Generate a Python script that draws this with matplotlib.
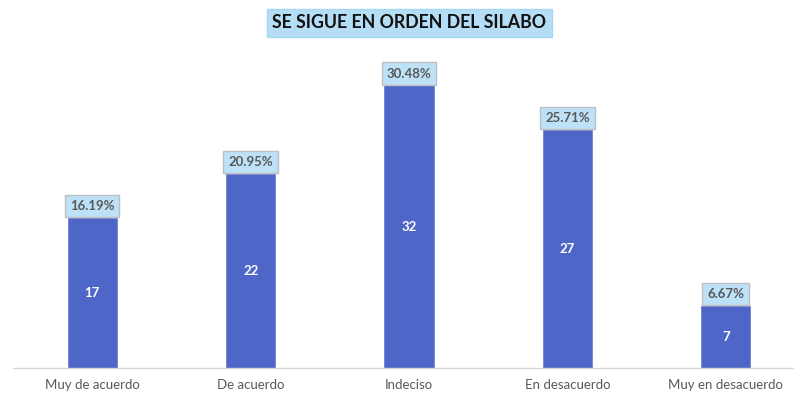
import matplotlib
matplotlib.use("Agg")
import matplotlib.pyplot as plt

categories = ["Muy de acuerdo", "De acuerdo", "Indeciso", "En desacuerdo", "Muy en desacuerdo"]
counts = [17, 22, 32, 27, 7]
percents = ["16.19%", "20.95%", "30.48%", "25.71%", "6.67%"]
title = "SE SIGUE EN ORDEN DEL SILABO"

plt.rcParams["font.family"] = ["Lato", "DejaVu Sans"]

fig = plt.figure(figsize=(7.94, 3.95), dpi=100)
ax = fig.add_axes([13 / 794, 27 / 395, 781 / 794, 318 / 395])

x = list(range(len(categories)))
bars = ax.bar(x, counts, width=0.31, color="#4F66C9", edgecolor="#6E82D6", linewidth=0.6, zorder=2)

ax.set_xlim(-0.5, 4.43)
ax.set_ylim(0, 36)

for xi, c, p in zip(x, counts, percents):
    ax.text(xi, c / 2, str(c), ha="center", va="center", color="white",
            fontsize=9.5, fontweight="bold", zorder=3)
    ax.annotate(p, xy=(xi, c), xytext=(0, 4.2), textcoords="offset points",
                ha="center", va="bottom", color="#595959", fontsize=9.5, fontweight="bold",
                bbox=dict(boxstyle="square,pad=0.38", facecolor="#BDE2F8", edgecolor="#BFBFBF",
                          linewidth=1.0), zorder=4)

ax.set_xticks(x)
ax.set_xticklabels(categories, color="#595959", fontsize=9.5)
ax.tick_params(axis="x", length=0, pad=8)
ax.set_yticks([])
for s in ["top", "left", "right"]:
    ax.spines[s].set_visible(False)
ax.spines["bottom"].set_color("#D9D9D9")
ax.spines["bottom"].set_linewidth(1.0)

fig.text(409.5 / 794, 1 - 23 / 395, title, ha="center", va="center", fontsize=12.8,
         fontweight="bold", color="#111111",
         bbox=dict(boxstyle="square,pad=0.32", facecolor="#B5DEF6", edgecolor="#A8D7F2", linewidth=1.0))

fig.savefig("out.png", dpi=100)
